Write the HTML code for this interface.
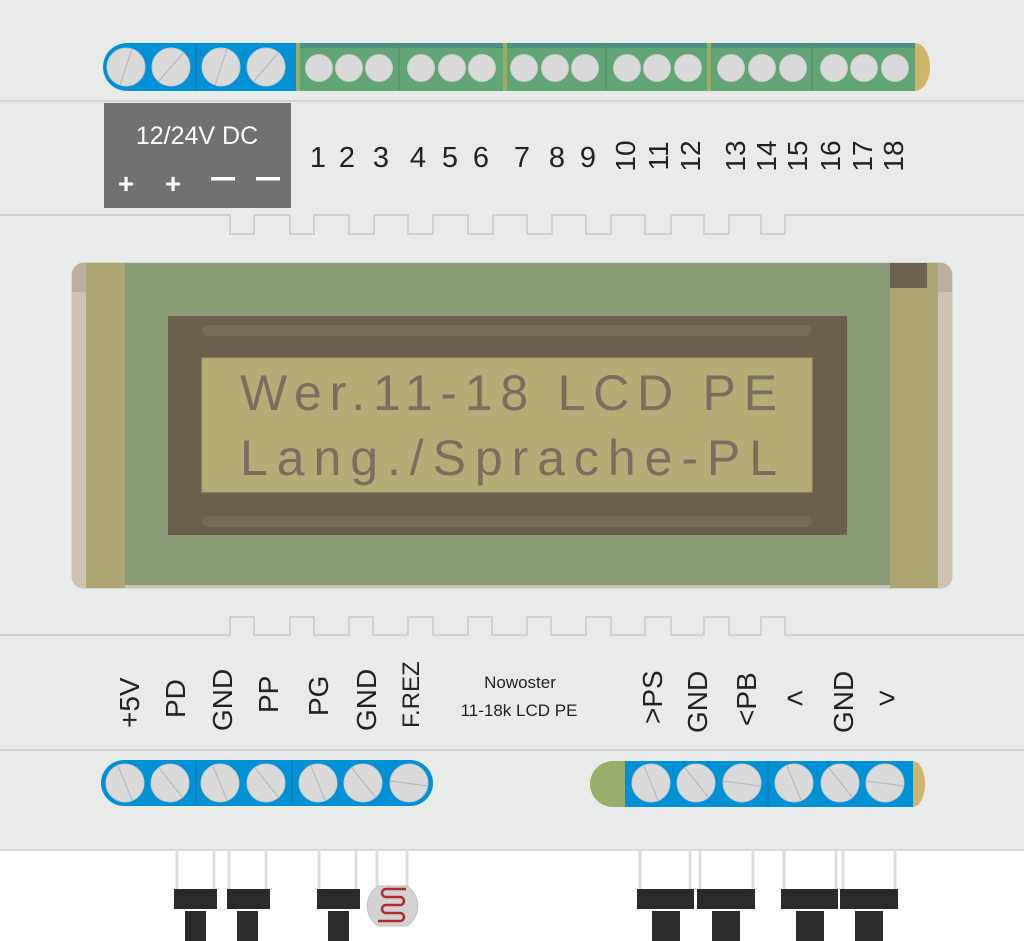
<!DOCTYPE html>
<html><head><meta charset="utf-8"><style>
html,body{margin:0;padding:0;background:#fff;}
svg{display:block;}
text{font-family:"Liberation Sans",sans-serif;}
</style></head><body>
<svg width="1024" height="941" viewBox="0 0 1024 941" xmlns="http://www.w3.org/2000/svg">
<rect x="0" y="0" width="1024" height="850" fill="#e9ebea"/>
<line x1="0" y1="850" x2="1024" y2="850" stroke="#d8d9d9" stroke-width="2"/>
<line x1="0" y1="101" x2="1024" y2="101" stroke="#d2d3d3" stroke-width="2"/>
<line x1="0" y1="750" x2="1024" y2="750" stroke="#d2d3d3" stroke-width="2"/>
<path d="M0 215 H230 V234 H254 V215 H290 V234 H314 V215 H349 V234 H374 V215 H408 V234 H433 V215 H468 V234 H493 V215 H527 V234 H552 V215 H586 V234 H611 V215 H645 V234 H671 V215 H704 V234 H729 V215 H761 V234 H785 V215 H1024" fill="none" stroke="#d0d1d1" stroke-width="2"/>
<path d="M0 635 H230 V617 H254 V635 H290 V617 H314 V635 H349 V617 H373 V635 H408 V617 H433 V635 H468 V617 H492 V635 H527 V617 H551 V635 H586 V617 H611 V635 H645 V617 H671 V635 H704 V617 H729 V635 H761 V617 H785 V635 H1024" fill="none" stroke="#d0d1d1" stroke-width="2"/>

<!-- top terminal -->
<path d="M127 43 H298 V91 H127 A24 24 0 0 1 127 43 Z" fill="#0090d6"/>
<line x1="196" y1="44" x2="196" y2="90" stroke="#2a6f9a" stroke-width="1"/>
<rect x="296" y="43" width="619" height="48" fill="#62a574"/>
<rect x="296" y="43" width="619" height="5" fill="#4f8f7f"/>
<path d="M915 43 A15 24 0 0 1 915 91 Z" fill="#cfb56a"/>
<rect x="296" y="43" width="4" height="48" fill="#9aac6c"/>
<rect x="503" y="43" width="4" height="48" fill="#9aac6c"/>
<rect x="707" y="43" width="4" height="48" fill="#9aac6c"/>
<g stroke="#4f8a66" stroke-width="1"><line x1="399" y1="44" x2="399" y2="90"/><line x1="606" y1="44" x2="606" y2="90"/><line x1="812" y1="44" x2="812" y2="90"/></g>
<g fill="#d9dad9" stroke="#c8c9c9" stroke-width="1">
<circle cx="126" cy="67" r="19"/><circle cx="171" cy="67" r="19"/><circle cx="221" cy="67" r="19"/><circle cx="266" cy="67" r="19"/>
<circle cx="319" cy="68" r="13.5"/><circle cx="349" cy="68" r="13.5"/><circle cx="379" cy="68" r="13.5"/>
<circle cx="421" cy="68" r="13.5"/><circle cx="452" cy="68" r="13.5"/><circle cx="482" cy="68" r="13.5"/>
<circle cx="524" cy="68" r="13.5"/><circle cx="555" cy="68" r="13.5"/><circle cx="585" cy="68" r="13.5"/>
<circle cx="627" cy="68" r="13.5"/><circle cx="657" cy="68" r="13.5"/><circle cx="688" cy="68" r="13.5"/>
<circle cx="731" cy="68" r="13.5"/><circle cx="762" cy="68" r="13.5"/><circle cx="793" cy="68" r="13.5"/>
<circle cx="834" cy="68" r="13.5"/><circle cx="864" cy="68" r="13.5"/><circle cx="895" cy="68" r="13.5"/>
</g>
<g stroke="#b9baba" stroke-width="1.2">
<line x1="120" y1="85" x2="132" y2="49"/><line x1="158" y1="82" x2="184" y2="52"/><line x1="215" y1="85" x2="227" y2="49"/><line x1="253" y1="82" x2="279" y2="52"/>
</g>

<!-- power box -->
<rect x="104" y="103" width="187" height="105" fill="#717171"/>
<text x="197" y="144" font-size="25" fill="#fff" text-anchor="middle">12/24V DC</text>
<text x="126" y="193" font-size="28" fill="#fff" text-anchor="middle" font-weight="bold">+</text>
<text x="173" y="193" font-size="28" fill="#fff" text-anchor="middle" font-weight="bold">+</text>
<rect x="211" y="177" width="24" height="3.5" fill="#fff"/>
<rect x="256" y="177" width="24" height="3.5" fill="#fff"/>

<g font-size="29" fill="#222" text-anchor="middle">
<text x="318" y="167">1</text><text x="347" y="167">2</text><text x="381" y="167">3</text><text x="418" y="167">4</text><text x="450" y="167">5</text><text x="481" y="167">6</text><text x="522" y="167">7</text><text x="557" y="167">8</text><text x="588" y="167">9</text>
</g>
<g font-size="28" fill="#222" text-anchor="middle">
<text transform="translate(635,156) rotate(-90)">10</text>
<text transform="translate(668,156) rotate(-90)">11</text>
<text transform="translate(700,156) rotate(-90)">12</text>
<text transform="translate(745,156) rotate(-90)">13</text>
<text transform="translate(776,156) rotate(-90)">14</text>
<text transform="translate(807,156) rotate(-90)">15</text>
<text transform="translate(840,156) rotate(-90)">16</text>
<text transform="translate(872,156) rotate(-90)">17</text>
<text transform="translate(903,156) rotate(-90)">18</text>
</g>

<!-- LCD -->
<rect x="72" y="263" width="880" height="325" rx="12" fill="#cdc1b0" stroke="#c2c2c0" stroke-width="1"/>
<path d="M84 263 H86 V292 H72 V275 A12 12 0 0 1 84 263Z" fill="#bbb09f"/>
<path d="M938 263 H940 A12 12 0 0 1 952 275 V292 H938 Z" fill="#bbb09f"/>
<rect x="86" y="263" width="39" height="325" fill="#aca471"/>
<rect x="890" y="263" width="48" height="325" fill="#aca471"/>
<rect x="125" y="263" width="765" height="322" fill="#889b76"/>
<rect x="890" y="263" width="37" height="25" fill="#6d6150"/>
<rect x="168" y="316" width="679" height="219" fill="#6b5f4e"/>
<rect x="202" y="325" width="610" height="11" rx="5.5" fill="#766a59"/>
<rect x="202" y="516" width="610" height="11" rx="5.5" fill="#766a59"/>
<rect x="202" y="358" width="610" height="134" fill="#b4ad75" stroke="#a39d6c" stroke-width="1"/>
<g font-size="50" fill="#7a6f5d" style="font-family:'Liberation Mono',monospace">
<text x="240" y="410" textLength="537" lengthAdjust="spacing">Wer.11-18 LCD PE</text>
<text x="240" y="475" textLength="537" lengthAdjust="spacing">Lang./Sprache-PL</text>
</g>

<!-- bottom labels -->
<g font-size="28" fill="#222">
<text transform="translate(139,728) rotate(-90)">+5V</text>
<text transform="translate(185,718) rotate(-90)">PD</text>
<text transform="translate(232,731) rotate(-90)">GND</text>
<text transform="translate(278,713) rotate(-90)">PP</text>
<text transform="translate(328,716) rotate(-90)">PG</text>
<text transform="translate(376,731) rotate(-90)">GND</text>
<text transform="translate(419,728) rotate(-90)" font-size="24">F.REZ</text>
<text transform="translate(662,724) rotate(-90)">&gt;PS</text>
<text transform="translate(707,733) rotate(-90)">GND</text>
<text transform="translate(756,726) rotate(-90)">&lt;PB</text>
<text transform="translate(853,733) rotate(-90)">GND</text>
</g>
<g font-size="30" fill="#222" text-anchor="middle">
<text x="795" y="708">&lt;</text>
<text x="887" y="708">&gt;</text>
</g>
<text x="520" y="688" font-size="17" fill="#222" text-anchor="middle">Nowoster</text>
<text x="519" y="716" font-size="17" fill="#222" text-anchor="middle">11-18k LCD PE</text>

<!-- bottom left terminal -->
<rect x="101" y="760" width="332" height="46" rx="23" fill="#0090d6"/>
<g stroke="#2a6f9a" stroke-width="1"><line x1="196" y1="761" x2="196" y2="805"/><line x1="292" y1="761" x2="292" y2="805"/></g>
<g fill="#d9dad9" stroke="#c8c9c9">
<circle cx="125" cy="783" r="19"/><circle cx="170" cy="783" r="19"/><circle cx="220" cy="783" r="19"/><circle cx="266" cy="783" r="19"/><circle cx="318" cy="783" r="19"/><circle cx="363" cy="783" r="19"/><circle cx="409" cy="783" r="19"/>
</g>
<g stroke="#b9baba" stroke-width="1.2">
<line x1="118" y1="766" x2="132" y2="800"/><line x1="159" y1="768" x2="183" y2="798"/><line x1="213" y1="766" x2="227" y2="800"/><line x1="255" y1="768" x2="279" y2="798"/><line x1="311" y1="766" x2="325" y2="800"/><line x1="352" y1="768" x2="376" y2="798"/><line x1="390" y1="781" x2="428" y2="786"/>
</g>
<!-- bottom right terminal -->
<path d="M625 761 H913 V807 H625 Z" fill="#0090d6"/>
<path d="M625 761 V807 H613 A23 23 0 0 1 613 761 Z" fill="#9aad6d"/>
<path d="M913 761 A12 23 0 0 1 913 807 Z" fill="#cdb56c"/>
<line x1="768" y1="762" x2="768" y2="806" stroke="#2a6f9a"/>
<g fill="#d9dad9" stroke="#c8c9c9">
<circle cx="651" cy="783" r="19"/><circle cx="696" cy="783" r="19"/><circle cx="742" cy="783" r="19"/><circle cx="794" cy="783" r="19"/><circle cx="840" cy="783" r="19"/><circle cx="885" cy="783" r="19"/>
</g>
<g stroke="#b9baba" stroke-width="1.2">
<line x1="644" y1="766" x2="658" y2="800"/><line x1="685" y1="768" x2="709" y2="798"/><line x1="723" y1="781" x2="761" y2="786"/><line x1="787" y1="766" x2="801" y2="800"/><line x1="829" y1="768" x2="853" y2="798"/><line x1="866" y1="781" x2="904" y2="786"/>
</g>

<!-- leads -->
<g stroke="#dcdcdc" stroke-width="3">
<line x1="177" y1="851" x2="177" y2="890"/><line x1="214" y1="851" x2="214" y2="890"/>
<line x1="229" y1="851" x2="229" y2="890"/><line x1="266" y1="851" x2="266" y2="890"/>
<line x1="319" y1="851" x2="319" y2="890"/><line x1="356" y1="851" x2="356" y2="890"/>
<line x1="377" y1="851" x2="377" y2="890"/><line x1="407" y1="851" x2="407" y2="890"/>
<line x1="640" y1="851" x2="640" y2="890"/><line x1="690" y1="851" x2="690" y2="890"/>
<line x1="700" y1="851" x2="700" y2="890"/><line x1="753" y1="851" x2="753" y2="890"/>
<line x1="784" y1="851" x2="784" y2="890"/><line x1="836" y1="851" x2="836" y2="890"/>
<line x1="843" y1="851" x2="843" y2="890"/><line x1="895" y1="851" x2="895" y2="890"/>
</g>
<g fill="#2b2a28">
<rect x="174" y="889" width="43" height="20"/><rect x="185" y="911" width="21" height="30"/>
<rect x="227" y="889" width="43" height="20"/><rect x="237" y="911" width="21" height="30"/>
<rect x="317" y="889" width="43" height="20"/><rect x="328" y="911" width="21" height="30"/>
<rect x="637" y="889" width="57" height="20"/><rect x="652" y="911" width="28" height="30"/>
<rect x="697" y="889" width="58" height="20"/><rect x="712" y="911" width="28" height="30"/>
<rect x="781" y="889" width="57" height="20"/><rect x="796" y="911" width="28" height="30"/>
<rect x="840" y="889" width="58" height="20"/><rect x="855" y="911" width="28" height="30"/>
</g>
<!-- LDR -->
<path d="M378 886 H407 A24 24 0 0 1 407 926 H378 A24 24 0 0 1 378 886Z" fill="#d2d2d2" stroke="#c0c0c0"/>
<path d="M406 889 H386 A4 4 0 0 0 386 897 H400 A4 4 0 0 1 400 905 H386 A4 4 0 0 0 386 913 H400 A4 4 0 0 1 400 921 H378" fill="none" stroke="#b22a2a" stroke-width="2.5"/>
</svg>
</body></html>
